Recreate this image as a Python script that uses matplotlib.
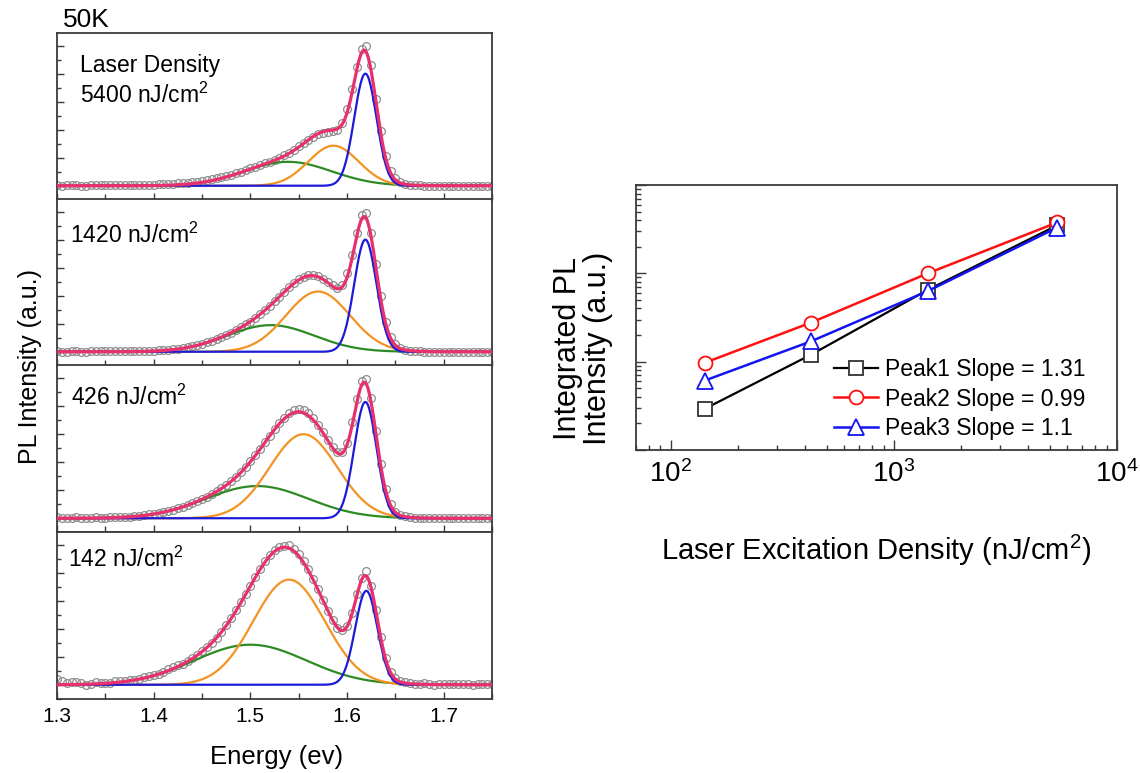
import numpy as np
import matplotlib.pyplot as plt
from matplotlib import font_manager
from matplotlib.ticker import MultipleLocator, NullFormatter, LogLocator

plt.rcParams['font.family'] = 'Liberation Sans'
plt.rcParams['mathtext.default'] = 'regular'

names = {f.name for f in font_manager.fontManager.ttflist}
narrow = 'Liberation Sans Narrow' if 'Liberation Sans Narrow' in names else 'Liberation Sans'

W, H = 1140, 773

# ---- left: PL spectra at 50K ----
energy = np.round(np.arange(1.300, 1.7501, 0.005), 3)
panel_labels = ['5400 nJ/cm$^2$', '1420 nJ/cm$^2$', '426 nJ/cm$^2$', '142 nJ/cm$^2$']

pl_5400 = [0.004, 0.002, 0.003, 0.005, 0.004, 0.002, 0.002, 0.004, 0.004, 0.003,
           0.005, 0.004, 0.004, 0.006, 0.006, 0.005, 0.006, 0.007, 0.008, 0.008,
           0.009, 0.010, 0.012, 0.013, 0.015, 0.017, 0.020, 0.023, 0.026, 0.030,
           0.035, 0.040, 0.046, 0.054, 0.062, 0.071, 0.080, 0.091, 0.101, 0.113,
           0.124, 0.136, 0.149, 0.160, 0.172, 0.187, 0.201, 0.218, 0.236, 0.258,
           0.281, 0.305, 0.327, 0.350, 0.366, 0.378, 0.384, 0.390, 0.398, 0.445,
           0.545, 0.690, 0.845, 0.975, 0.995, 0.860, 0.620, 0.390, 0.212, 0.105,
           0.052, 0.025, 0.013, 0.007, 0.004, 0.003, 0.002, 0.001, 0.001, 0.002,
           0.002, 0.001, 0.000, 0.001, 0.001, 0.002, 0.002, 0.001, 0.000, 0.001,
           0.001]
pl_1420 = [0.003, 0.002, 0.002, 0.003, 0.003, 0.002, 0.002, 0.003, 0.003, 0.004,
           0.004, 0.003, 0.003, 0.004, 0.005, 0.005, 0.006, 0.006, 0.007, 0.008,
           0.009, 0.011, 0.013, 0.016, 0.019, 0.023, 0.028, 0.034, 0.041, 0.049,
           0.058, 0.068, 0.080, 0.093, 0.106, 0.121, 0.137, 0.155, 0.174, 0.195,
           0.216, 0.241, 0.268, 0.297, 0.328, 0.362, 0.394, 0.428, 0.462, 0.492,
           0.516, 0.534, 0.546, 0.548, 0.540, 0.522, 0.498, 0.474, 0.458, 0.478,
           0.560, 0.690, 0.850, 0.975, 0.990, 0.850, 0.625, 0.395, 0.215, 0.108,
           0.055, 0.027, 0.015, 0.009, 0.005, 0.003, 0.002, 0.001, 0.001, 0.000,
           0.000, 0.001, 0.001, 0.000, 0.000, 0.001, 0.001, 0.000, 0.000, 0.001,
           0.001]
pl_426 = [0.006, 0.002, 0.000, 0.004, 0.008, 0.003, 0.002, 0.005, 0.006, 0.003,
          0.004, 0.007, 0.008, 0.008, 0.010, 0.012, 0.015, 0.018, 0.022, 0.027,
          0.032, 0.038, 0.045, 0.053, 0.062, 0.072, 0.083, 0.095, 0.108, 0.123,
          0.138, 0.155, 0.172, 0.192, 0.214, 0.238, 0.266, 0.295, 0.330, 0.366,
          0.406, 0.450, 0.494, 0.543, 0.590, 0.637, 0.678, 0.716, 0.748, 0.770,
          0.780, 0.772, 0.752, 0.712, 0.668, 0.615, 0.560, 0.510, 0.470, 0.472,
          0.540, 0.685, 0.850, 0.980, 0.995, 0.855, 0.625, 0.390, 0.210, 0.100,
          0.048, 0.024, 0.013, 0.008, 0.004, 0.004, 0.003, 0.001, 0.000, 0.002,
          0.004, 0.002, 0.001, 0.003, 0.003, 0.001, 0.000, 0.002, 0.002, 0.000,
          0.001]
pl_142 = [0.040, 0.025, 0.012, 0.018, 0.022, 0.010, 0.002, 0.008, 0.018, 0.014,
          0.010, 0.016, 0.024, 0.026, 0.030, 0.032, 0.034, 0.042, 0.052, 0.060,
          0.068, 0.080, 0.094, 0.110, 0.125, 0.140, 0.150, 0.170, 0.190, 0.214,
          0.240, 0.268, 0.300, 0.337, 0.380, 0.424, 0.474, 0.530, 0.588, 0.648,
          0.708, 0.768, 0.828, 0.880, 0.925, 0.960, 0.985, 0.992, 0.995, 0.968,
          0.935, 0.885, 0.825, 0.755, 0.680, 0.605, 0.528, 0.462, 0.405, 0.392,
          0.420, 0.510, 0.650, 0.765, 0.810, 0.705, 0.535, 0.340, 0.190, 0.092,
          0.045, 0.024, 0.018, 0.010, 0.006, 0.008, 0.010, 0.004, 0.002, 0.006,
          0.008, 0.004, 0.003, 0.007, 0.009, 0.003, 0.001, 0.004, 0.006, 0.005,
          0.004]
spectra = [pl_5400, pl_1420, pl_426, pl_142]

# gaussian fit components per panel (center eV, sigma eV, height)
green_center = [1.539, 1.521, 1.507, 1.500]
green_width = [0.045, 0.045, 0.053, 0.058]
green_height = [0.171, 0.19, 0.23, 0.286]
orange_center = [1.586, 1.570, 1.555, 1.540]
orange_width = [0.026, 0.033, 0.035, 0.037]
orange_height = [0.286, 0.43, 0.60, 0.75]
blue_center = [1.619, 1.619, 1.619, 1.620]
blue_width = [0.0115, 0.0115, 0.0115, 0.0115]
blue_height = [0.80, 0.80, 0.83, 0.67]

# ---- right: integrated PL vs excitation ----
exc_density = [142, 426, 1420, 5400]
peak1_int = [0.292, 1.2, 6.5, 35]
peak2_int = [0.97, 2.77, 10.0, 37.7]
peak3_int = [0.61, 1.7, 6.3, 33]
legend_labels = ['Peak1 Slope = 1.31', 'Peak2 Slope = 0.99', 'Peak3 Slope = 1.1']


def gauss(x, c, s, h):
    return h * np.exp(-(x - c) ** 2 / (2 * s ** 2))


fig = plt.figure(figsize=(W / 100, H / 100), dpi=100)
spine_col = '#3a3a3a'

tops = [33, 199, 365.5, 532]
ph = 166.8
e_fine = np.linspace(1.30, 1.75, 600)
label_pos = [(80, 103), (70, 243), (71, 405), (68, 567)]

for i in range(4):
    ax = fig.add_axes([57 / W, 1 - (tops[i] + ph) / H, 435 / W, ph / H])
    g = gauss(e_fine, green_center[i], green_width[i], green_height[i])
    o = gauss(e_fine, orange_center[i], orange_width[i], orange_height[i])
    b = gauss(e_fine, blue_center[i], blue_width[i], blue_height[i])
    ax.plot(energy, spectra[i], 'o', mfc='none', mec='#8e8e8e', ms=5.6, mew=0.9, zorder=1)
    ax.plot(e_fine, g, color='#2e8a24', lw=1.6, zorder=2)
    ax.plot(e_fine, o, color='#f39324', lw=1.6, zorder=3)
    ax.plot(e_fine, b, color='#1b1bd8', lw=1.6, zorder=4)
    ax.plot(e_fine, g + o + b, color='#e8306f', lw=2.3, zorder=5)
    ax.set_xlim(1.30, 1.75)
    ax.set_ylim(-0.1, 1.09)
    ax.xaxis.set_major_locator(MultipleLocator(0.1))
    ax.xaxis.set_minor_locator(MultipleLocator(0.05))
    ax.yaxis.set_major_locator(MultipleLocator(0.2))
    ax.yaxis.set_minor_locator(MultipleLocator(0.1))
    ax.tick_params(which='both', direction='in', top=False, right=False,
                   width=1.0, color=spine_col)
    ax.tick_params(which='major', length=5)
    ax.tick_params(which='minor', length=3)
    ax.tick_params(axis='x', which='minor', length=4)
    ax.set_yticklabels([])
    if i < 3:
        ax.set_xticklabels([])
    else:
        ax.tick_params(axis='x', labelsize=15, pad=6)
    for sp in ax.spines.values():
        sp.set_color(spine_col)
        sp.set_linewidth(1.3)
    lx, ly = label_pos[i]
    fig.text(lx / W, 1 - ly / H, panel_labels[i], fontsize=16.5, va='baseline', ha='left')

fig.text(80 / W, 1 - 72 / H, 'Laser Density', fontsize=16.5, va='baseline', ha='left')
fig.text(63 / W, 1 - 27 / H, '50K', fontsize=19, va='baseline', ha='left')
fig.text(277 / W, 1 - 764 / H, 'Energy (ev)', fontsize=18.5, va='baseline', ha='center')
fig.text(30 / W, 1 - 366 / H, 'PL Intensity (a.u.)', fontsize=18, rotation=90,
         va='center', ha='center')

# right panel
ax2 = fig.add_axes([636 / W, 1 - 450 / H, 481 / W, 265 / H])
ax2.plot(exc_density, peak1_int, '-s', color='black', mfc='white', mec='#333333',
         ms=9.5, mew=1.3, lw=1.6, label=legend_labels[0])
ax2.plot(exc_density, peak2_int, '-o', color='#ff1010', mfc='white', mec='#ff1010',
         ms=10, mew=1.3, lw=1.8, label=legend_labels[1])
ax2.plot(exc_density, peak3_int, '-^', color='#1414f0', mfc='white', mec='#1414f0',
         ms=11, mew=1.3, lw=1.8, label=legend_labels[2])
ax2.set_xscale('log')
ax2.set_yscale('log')
ax2.set_xlim(70, 1e4)
ax2.set_ylim(0.1, 100)
ax2.yaxis.set_major_formatter(NullFormatter())
ax2.yaxis.set_minor_formatter(NullFormatter())
ax2.xaxis.set_minor_formatter(NullFormatter())
ax2.xaxis.set_minor_locator(LogLocator(base=10, subs=np.arange(2, 10)))
ax2.yaxis.set_minor_locator(LogLocator(base=10, subs=np.arange(2, 10)))
ax2.tick_params(which='both', direction='in', top=False, right=False,
                width=1.0, color=spine_col)
ax2.tick_params(which='major', length=7)
ax2.tick_params(which='minor', length=3.5)
ax2.tick_params(axis='x', labelsize=20, pad=7)
for t in ax2.get_xticklabels():
    t.set_fontfamily(narrow)
for sp in ax2.spines.values():
    sp.set_color(spine_col)
    sp.set_linewidth(1.3)

leg = ax2.legend(loc='center left', bbox_to_anchor=(823 / W, 1 - 399 / H),
                 bbox_transform=fig.transFigure, frameon=False, borderpad=0,
                 handlelength=1.9, handletextpad=0.3, labelspacing=0.28,
                 prop={'family': narrow, 'size': 16.5})

fig.text(876 / W, 1 - 560 / H, 'Laser Excitation Density (nJ/cm$^2$)',
         fontsize=21, family=narrow, va='baseline', ha='center')
fig.text(583 / W, 1 - 348 / H, 'Integrated PL\nIntensity (a.u.)', fontsize=22,
         rotation=90, va='center', ha='center', multialignment='center', linespacing=1.0)

fig.savefig('out.png', dpi=100)
